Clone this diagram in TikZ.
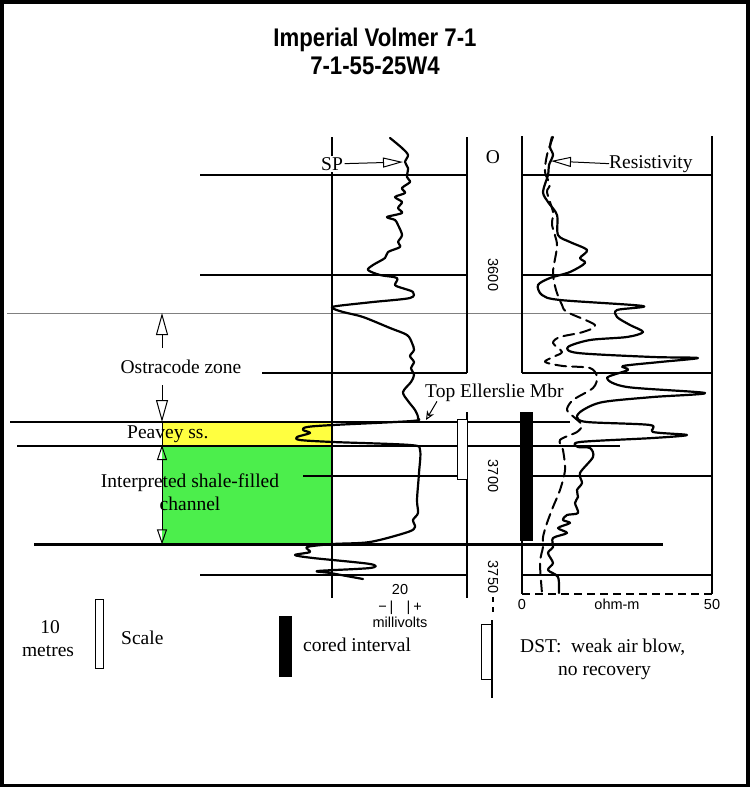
\documentclass[tikz,border=0pt]{standalone}
\usepackage{fontspec}
\setmainfont{Liberation Serif}
\setsansfont{Liberation Sans}
\newfontfamily\titlefont[FakeStretch=0.87]{Liberation Sans}
\usepackage{tikz}
\usetikzlibrary{arrows.meta}
\definecolor{peaveyyellow}{RGB}{255,255,64}
\definecolor{channelgreen}{RGB}{76,238,76}
\tikzstyle{Label}=[inner sep=0pt, anchor=base, font=\fontsize{19.5}{22}\selectfont]
\tikzstyle{Sans}=[inner sep=0pt, anchor=base, font=\sffamily\fontsize{14.5}{16}\selectfont]
\tikzstyle{Title}=[inner sep=0pt, anchor=base, font=\titlefont\bfseries\fontsize{25.5}{28}\selectfont]
\tikzstyle{Track}=[line width=2pt]
\tikzstyle{Grid}=[line width=1.2pt]
\tikzstyle{Log}=[line width=2.2pt, line join=round, line cap=round]
\tikzstyle{Open}=[line width=1pt, -{Triangle[open, length=20pt, width=10pt]}]
\tikzstyle{Bar}=[inner sep=0pt, anchor=north west, draw=black, line width=1.3pt]

\begin{document}
\begin{tikzpicture}[x=1pt, y=-1pt]
    \useasboundingbox (0,0) rectangle (750,787);
    \draw[line width=3.5pt] (1.75,1.75) rectangle (748,785.25);

    \path
    (375,46) node[Title] (title) {Imperial Volmer 7-1}
    (375,74) node[Title] (well) {7-1-55-25W4};

    \path
    (162,422) node[fill=peaveyyellow, inner sep=0pt, minimum width=170pt, minimum height=23pt, anchor=north west] (peavey) {}
    (162,445) node[fill=channelgreen, inner sep=0pt, minimum width=170pt, minimum height=99pt, anchor=north west] (channel) {};

    \draw[Grid] (200,175) -- (467,175) (522,175) -- (712,175);
    \draw[Grid] (200,275) -- (467,275) (522,275) -- (712,275);
    \draw[line width=1pt, black!50] (7,313) -- (712,313);
    \draw[Grid] (262,373) -- (467,373) (522,373) -- (712,373);
    \draw[line width=1.8pt] (10,422) -- (570,422);
    \draw[line width=1.5pt] (17,446) -- (620,446);
    \draw[Grid] (303,476) -- (457,476) (522,476) -- (712,476);
    \draw[line width=3pt] (34,544) -- (663,544);
    \draw[Grid] (200,575) -- (467,575) (522,575) -- (712,575);
    \draw[Grid, dash pattern=on 8pt off 5pt] (522,594) -- (712,594);

    \draw[Track] (332,137) -- (332,598);
    \draw[Track] (467,137) -- (467,373) (467,412) -- (467,598);
    \draw[Track] (522,136) -- (522,373) (522,412) -- (522,594);
    \draw[Track] (712,136) -- (712,594);

    \path
    (457,419) node[Bar, fill=white, minimum width=10pt, minimum height=60pt] (dst) {}
    (520,412) node[Bar, fill=black, minimum width=12pt, minimum height=128pt] (core) {};

    \draw[Log] plot[smooth, tension=0.5] coordinates {(390,138) (402,148) (408,155) (405,162) (408,168) (407,177) (410,182) (402,188) (405,193) (395,197) (402,202) (398,208) (402,213) (387,217) (395,220) (398,225) (402,235) (398,242) (400,247) (388,252) (385,258) (373,265) (368,270) (380,275) (397,278) (395,285) (402,288) (413,292) (410,298) (373,302) (337,306) (332,308) (343,312) (363,317) (390,328) (407,335) (412,343) (414,350) (410,356) (414,362) (411,368) (414,375) (411,382) (403,392) (408,401) (415,410) (418,418) (412,421) (333,425) (307,427) (303,430) (310,433) (297,437) (300,440) (333,442) (410,445) (420,450) (419,473) (417,500) (418,513) (413,520) (415,527) (408,532) (370,542) (333,544) (307,547) (310,552) (295,555) (313,558) (370,564) (370,568) (318,571) (330,573) (363,579)};
    \draw[Log] plot[smooth, tension=0.5] coordinates {(552,137) (550,147) (553,155) (549,165) (548,175) (543,192) (548,202) (557,215) (558,235) (570,242) (587,250) (580,258) (585,263) (570,272) (550,278) (538,285) (542,295) (560,300) (643,306) (617,310) (617,317) (630,325) (643,332) (627,337) (590,340) (568,347) (578,353) (653,357) (698,358) (660,362) (623,366) (628,370) (607,378) (627,387) (705,393) (653,397) (603,402) (583,410) (577,417) (587,422) (650,425) (653,432) (687,435) (653,438) (580,442) (578,447) (590,448) (593,457) (580,473) (582,483) (577,490) (578,497) (575,503) (578,513) (567,515) (563,520) (570,523) (558,528) (567,533) (553,538) (553,547) (548,553) (553,563) (548,570) (558,577) (559,593)};
    \draw[Log, line width=2pt, dash pattern=on 11pt off 6pt] plot[smooth, tension=0.5] coordinates {(553,137) (547,155) (545,172) (550,185) (547,192) (553,212) (552,225) (557,245) (553,272) (556,290) (562,305) (567,312) (595,325) (583,332) (560,337) (553,343) (562,352) (553,357) (545,362) (563,366) (590,368) (597,377) (593,388) (573,400) (567,410) (575,418) (582,425) (577,432) (560,440) (563,450) (565,470) (560,490) (553,507) (547,523) (543,537) (543,547) (540,563) (542,593)};

    \path
    (332,170) node[Label, fill=white, inner sep=1.5pt] (sp) {SP}
    (609,168) node[Label, anchor=base west] (res) {Resistivity}
    (493,163) node[Label] (zero) {O}
    (181,373) node[Label] (ostra) {Ostracode zone}
    (425,397) node[Label, anchor=base west] (topel) {Top Ellerslie Mbr}
    (127,438) node[Label, anchor=base west] (pvlabel) {Peavey ss.}
    (190,487) node[Label] (chan1) {Interpreted shale-filled}
    (190,510) node[Label] (chan2) {channel};
    \path
    (493,275) node[Sans, anchor=center, rotate=-90] (d3600) {3600}
    (493,476) node[Sans, anchor=center, rotate=-90] (d3700) {3700}
    (493,577) node[Sans, anchor=center, rotate=-90] (d3750) {3750}
    (400,594) node[Sans] (mv20) {20}
    (400,611) node[Sans] (mvscale) {−\hspace{3pt}|\hspace{13pt}|\hspace{3pt}+}
    (400,627) node[Sans] (mv) {millivolts}
    (522,609) node[Sans] (ohm0) {0}
    (617,609) node[Sans] (ohm) {ohm-m}
    (712,609) node[Sans] (ohm50) {50};

    \path (403,162) coordinate (sptip) (551,161) coordinate (restip) (426,420) coordinate (teltip)
    (162,313) coordinate (ostop) (162,348) coordinate (osa) (162,385) coordinate (osb);
    \draw[Open] (sp.east) -- (sptip);
    \draw[Open] (res.west) -- (restip);
    \draw[line width=1pt, -{Stealth[open, length=9pt, width=8pt]}] ([xshift=12pt]topel.south west) -- (teltip);
    \draw[line width=1pt, -{Triangle[open, length=22pt, width=12pt]}] (osa) -- (ostop);
    \draw[line width=1pt, -{Triangle[open, length=22pt, width=12pt]}] (osb) -- (peavey.north west);
    \draw[line width=1pt] (peavey.north west) -- (peavey.south west);
    \draw[line width=1pt, {Triangle[open, length=15pt, width=10pt]}-{Triangle[open, length=15pt, width=10pt]}] (channel.north west) -- (channel.south west);

    \path
    (95,599) node[Bar, minimum width=8pt, minimum height=69pt] (scalebar) {}
    (279,616) node[Bar, fill=black, minimum width=12pt, minimum height=60pt] (corekey) {}
    (481,624) node[Bar, minimum width=11pt, minimum height=55pt] (dstkey) {}
    (50,633) node[Label] (ten) {10}
    (48,656) node[Label] (metres) {metres}
    (121,644) node[Label, anchor=base west] (scale) {Scale}
    (303,651) node[Label, anchor=base west] (cored) {cored interval}
    (520,652) node[Label, anchor=base west] (dsttext) {DST:\hspace{0.5em}weak air blow,}
    (558,675) node[Label, anchor=base west] (norec) {no recovery};
    \path (492,620) coordinate (dsttop) (492,698) coordinate (dstbot) (493,597) coordinate (depthend) (493,616) coordinate (depthcut);
    \draw[line width=1.2pt] (dsttop) -- (dstbot);
    \draw[line width=1.2pt, dash pattern=on 5pt off 5pt] (depthend) -- (depthcut);
\end{tikzpicture}
\end{document}
